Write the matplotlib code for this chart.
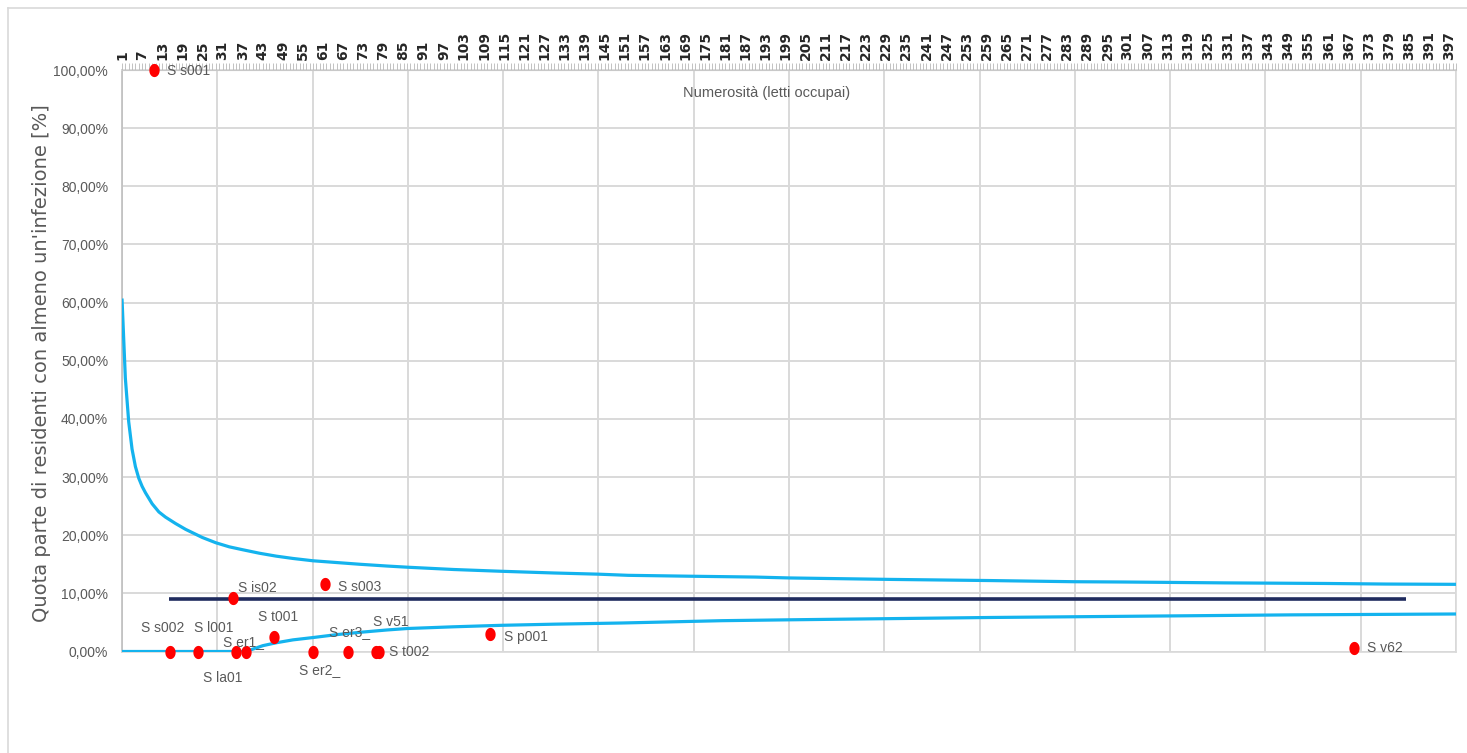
import numpy as np
import matplotlib
matplotlib.use("Agg")
import matplotlib.pyplot as plt
from matplotlib.path import Path
from matplotlib.lines import Line2D

# ---------------- data ----------------
n_categories = 399                      # categories 1..399 on the top axis
label_every = 6                          # tick labels 1, 7, 13, ...

upper_n = [1, 2, 3, 4, 5, 6, 7, 8, 10, 12, 14, 17, 20, 25, 29, 33, 37, 42, 47, 52,
           58, 65, 72, 80, 86, 100, 114, 130, 143, 152, 170, 190, 200, 230, 260,
           285, 300, 330, 360, 378, 399]
upper_pct = [60.7, 47.0, 39.5, 34.8, 31.8, 29.8, 28.4, 27.3, 25.4, 24.0, 23.1, 22.0,
             21.0, 19.6, 18.7, 18.0, 17.5, 16.9, 16.4, 16.0, 15.6, 15.3, 15.0, 14.7,
             14.5, 14.1, 13.8, 13.5, 13.3, 13.1, 12.95, 12.8, 12.65, 12.4, 12.2,
             12.0, 11.95, 11.8, 11.7, 11.6, 11.55]

lower_n = [1, 38, 40, 43, 47, 52, 58, 65, 72, 80, 86, 100, 114, 130, 150, 165, 180,
           200, 230, 260, 290, 320, 350, 399]
lower_pct = [0.0, 0.0, 0.4, 1.0, 1.5, 2.0, 2.4, 2.9, 3.3, 3.7, 3.95, 4.25, 4.5, 4.7,
             4.9, 5.1, 5.3, 5.45, 5.65, 5.85, 6.0, 6.15, 6.3, 6.45]

mean_n = [15, 384]
mean_pct = [8.97, 8.97]

struct_names = ["S s001", "S s002", "S l001", "S la01", "S er1_", "S is02", "S t001",
                "S er2_", "S er3_", "S v51", "S t002", "S s003", "S p001", "S v62"]
struct_beds = [10, 15, 24, 36, 39, 35, 48, 60, 71, 80, 81, 64, 116, 388]
struct_pct = [100.0, 0.0, 0.0, 0.0, 0.0, 9.24, 2.41, 0.0, 0.0, 0.0, 0.0, 11.55, 2.93, 0.57]

y_ticks = [0, 10, 20, 30, 40, 50, 60, 70, 80, 90, 100]
x_title = "Numerosità (letti occupai)"
y_title = "Quota parte di residenti con almeno un'infezione [%]"

# ---------------- style ----------------
label_offsets_px = [(13, -1, "left"), (-7, 24, "center"), (15, 24, "center"),
                    (-14, -27, "center"), (-2, 9, "center"), (5, 10, "left"),
                    (4, 20, "center"), (7, -19, "center"), (2, 19, "center"),
                    (15, 29, "center"), (10, -1, "left"), (13, -3, "left"),
                    (14, -3, "left"), (13, 0, "left")]

W, H, DPI = 1467, 753, 100
NARROW = ["Liberation Sans", "DejaVu Sans"]
GRAY_TXT = "#595959"
GRID = "#d9d9d9"
CYAN = "#14B3EE"
NAVY = "#1F2B5E"

fig = plt.figure(figsize=(W / DPI, H / DPI), dpi=DPI)
fig.patch.set_facecolor("white")

# outer chart frame (top/left)
fig.add_artist(Line2D([8 / W, 1.0], [1 - 8 / H, 1 - 8 / H], color="#d9d9d9", lw=1.2))
fig.add_artist(Line2D([8 / W, 8 / W], [0, 1 - 8 / H], color="#d9d9d9", lw=1.2))

left, right, top, bottom = 122, 1456, 70, 651.5
pos = [left / W, 1 - bottom / H, (right - left) / W, (bottom - top) / H]

# background axes: gridlines (secondary value scale 0..420)
axg = fig.add_axes(pos)
axg.set_xlim(0, 420)
axg.set_ylim(0, 100)
axg.set_xticks(np.arange(0, 421, 30))
axg.set_yticks(y_ticks)
axg.grid(True, color=GRID, lw=1.4)
axg.tick_params(length=0, labelbottom=False, labelleft=False)
for s in axg.spines.values():
    s.set_color(GRID)
    s.set_linewidth(1.2)
axg.spines["left"].set_color("#bfbfbf")

# category axis with curves
ax = fig.add_axes(pos)
ax.patch.set_visible(False)
ax.set_xlim(1, n_categories)
ax.set_ylim(0, 100)
ax.plot(upper_n, upper_pct, color=CYAN, lw=2.3, solid_capstyle="butt", zorder=3)
ax.plot(lower_n, lower_pct, color=CYAN, lw=2.3, solid_capstyle="butt", zorder=3)
ax.plot(mean_n, mean_pct, color=NAVY, lw=2.6, solid_capstyle="butt", zorder=4)

cats = np.arange(1, n_categories + 1)
ax.set_xticks(cats)
ax.set_xticklabels([str(c) if (c - 1) % label_every == 0 else "" for c in cats],
                   rotation=90, fontsize=10, fontweight="bold", color="#262626",
                   family="DejaVu Sans")
ax.xaxis.tick_top()
ax.tick_params(axis="x", which="major", top=True, bottom=False, labeltop=True,
               labelbottom=False, length=5, width=0.6, color="#b8b8b8", pad=2)
ax.set_yticks(y_ticks)
ax.set_yticklabels([("%.2f%%" % v).replace(".", ",") for v in y_ticks],
                   family=NARROW, fontsize=10, color=GRAY_TXT)
ax.tick_params(axis="y", length=0, pad=10)
for s in ax.spines.values():
    s.set_visible(False)
ax.spines["top"].set_visible(True)
ax.spines["top"].set_color("#c8c8c8")

# points axis (same value scale as the grid)
axp = fig.add_axes(pos)
axp.set_xlim(0, 420)
axp.set_ylim(0, 100)
axp.axis("off")
t = np.linspace(0, 2 * np.pi, 60)
ell = Path(np.column_stack([0.78 * np.cos(t), np.sin(t)]), closed=True)
axp.plot(struct_beds, struct_pct, linestyle="none", marker=ell, markersize=9.5,
         color="#ff0000", markeredgewidth=0, zorder=5, clip_on=False)
for name, bx, py, (dx, dy, ha) in zip(struct_names, struct_beds, struct_pct, label_offsets_px):
    axp.annotate(name, (bx, py), xytext=(dx * 0.72, dy * 0.72), textcoords="offset points",
                 ha=ha, va="center", fontsize=10, color=GRAY_TXT, family=NARROW,
                 annotation_clip=False, zorder=6)

fig.text(767 / W, 1 - 93 / H, x_title, ha="center", va="center", fontsize=10.5,
         color=GRAY_TXT, family=NARROW)
fig.text(42 / W, 1 - 363 / H, y_title, ha="center", va="center", rotation=90,
         fontsize=14, color=GRAY_TXT, family="DejaVu Sans")

fig.savefig("out.png", dpi=DPI, facecolor="white")
